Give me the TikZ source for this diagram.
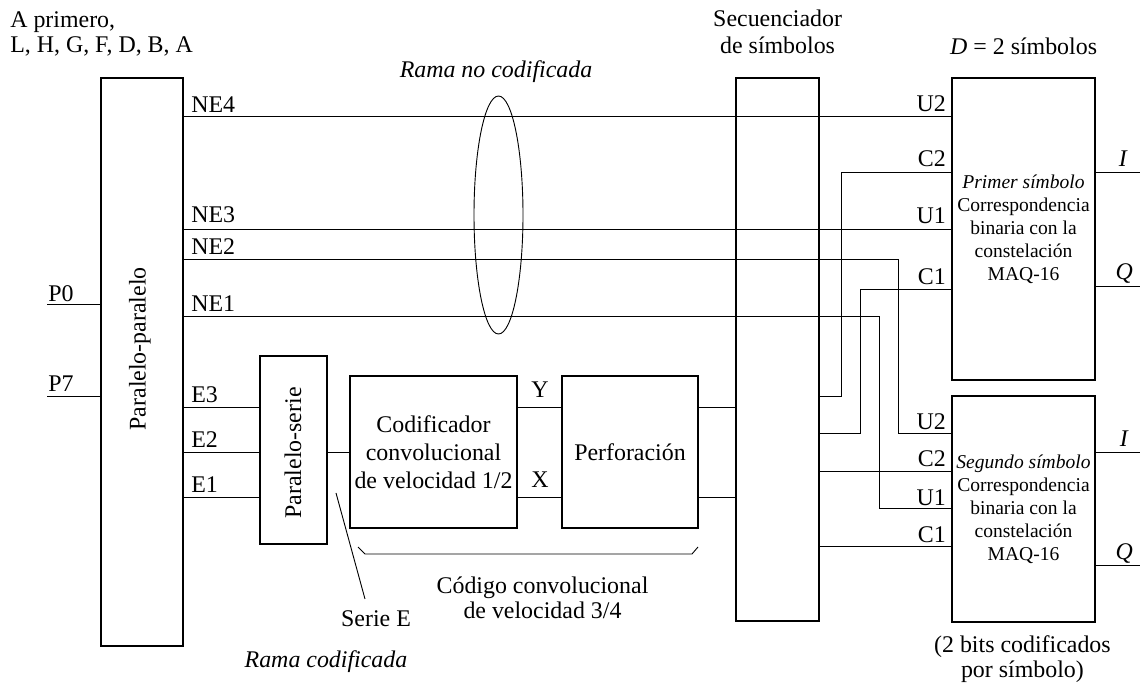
\documentclass[tikz,border=0pt]{standalone}
\usepackage{fontspec}
\setmainfont{Liberation Serif}
\usetikzlibrary{calc, positioning}
\tikzstyle{block} = [rectangle, draw=black, line width=0.9pt, inner sep=0pt, align=center]
\tikzstyle{mapper} = [block, minimum width=3.575cm, font=\fontsize{13.9}{16.3}\selectfont]
\tikzstyle{wire} = [line width=0.65pt]
\tikzstyle{portl} = [inner sep=0pt, anchor=base west]
\tikzstyle{portr} = [inner sep=0pt, anchor=base east]
\tikzstyle{note} = [inner sep=0pt, align=center, anchor=north]

\begin{document}
\begin{tikzpicture}[every node/.style={font=\fontsize{17}{20}\selectfont}]
	\useasboundingbox (0,0) rectangle (28.65,-17.1);

	% blocks
	\node (pp) [block, minimum width=2.05cm, minimum height=14.2cm] at (3.55,-9.05) {};
	\node (pplbl) [rotate=90, inner sep=0pt] at (3.5,-8.72) {Paralelo-paralelo};
	\node (ps) [block, minimum width=1.675cm, minimum height=4.7cm] at (7.3375,-11.25) {};
	\node (pslbl) [rotate=90, inner sep=0pt] at (7.325,-11.325) {Paralelo-serie};
	\node (cod) [block, minimum width=4.175cm, minimum height=3.8cm, font=\fontsize{17}{19.9}\selectfont] at (10.8375,-11.3) {Codificador\\convolucional\\de velocidad 1/2};
	\node (perf) [block, minimum width=3.4cm, minimum height=3.8cm] at (15.75,-11.3) {Perforación};
	\node (seq) [block, minimum width=2.075cm, minimum height=13.575cm] at (19.4375,-8.7375) {};
	\node (map1) [mapper, minimum height=7.55cm] at (25.5875,-5.725) {\textit{Primer símbolo}\\Correspondencia\\binaria con la\\constelación\\MAQ-16};
	\node (map2) [mapper, minimum height=5.65cm] at (25.5875,-12.725) {\textit{Segundo símbolo}\\Correspondencia\\binaria con la\\constelación\\MAQ-16};

	% inputs
	\draw [wire] (1.175,-7.6) -- (pp.west |- 0,-7.6);
	\draw [wire] (1.175,-9.9) -- (pp.west |- 0,-9.9);
	\node (p0) [portl] at (1.2,-7.55) {P0};
	\node (p7) [portl] at (1.2,-9.8) {P7};

	% uncoded branch
	\draw [wire] (pp.east |- 0,-2.9) -- (map1.west |- 0,-2.9);
	\draw [wire] (pp.east |- 0,-5.725) -- (map1.west |- 0,-5.725);
	\draw [wire] (pp.east |- 0,-6.475) -| (22.45,-10.825) -- (map2.west |- 0,-10.825);
	\draw [wire] (pp.east |- 0,-7.9) -| (21.975,-12.7) -- (map2.west |- 0,-12.7);
	\node (ne4) [portl] at (4.775,-2.825) {NE4};
	\node (ne3) [portl] at (4.775,-5.575) {NE3};
	\node (ne2) [portl] at (4.775,-6.375) {NE2};
	\node (ne1) [portl] at (4.775,-7.8) {NE1};
	\draw [wire] (12.4625,-5.375) ellipse (0.6125 and 2.975);

	% coded branch
	\draw [wire] (pp.east |- 0,-10.175) -- (ps.west |- 0,-10.175);
	\draw [wire] (pp.east |- 0,-11.3) -- (ps.west |- 0,-11.3);
	\draw [wire] (pp.east |- 0,-12.425) -- (ps.west |- 0,-12.425);
	\node (e3) [portl] at (4.775,-10.075) {E3};
	\node (e2) [portl] at (4.775,-11.2) {E2};
	\node (e1) [portl] at (4.775,-12.325) {E1};
	\draw [wire] (ps.east |- 0,-11.3) -- (cod.west |- 0,-11.3);
	\draw [wire] (cod.east |- 0,-10.175) -- (perf.west |- 0,-10.175);
	\draw [wire] (cod.east |- 0,-12.425) -- (perf.west |- 0,-12.425);
	\node (y) [inner sep=0pt, anchor=base] at (13.5,-9.95) {Y};
	\node (x) [inner sep=0pt, anchor=base] at (13.5,-12.2) {X};
	\draw [wire] (perf.east |- 0,-10.175) -- (seq.west |- 0,-10.175);
	\draw [wire] (perf.east |- 0,-12.425) -- (seq.west |- 0,-12.425);

	% sequencer outputs
	\draw [wire] (map1.west |- 0,-4.3) -| (21.025,-9.9) -- (seq.east |- 0,-9.9);
	\draw [wire] (map1.west |- 0,-7.225) -| (21.5,-10.825) -- (seq.east |- 0,-10.825);
	\draw [wire] (seq.east |- 0,-11.775) -- (map2.west |- 0,-11.775);
	\draw [wire] (seq.east |- 0,-13.65) -- (map2.west |- 0,-13.65);
	\node (u2a) [portr] at (23.65,-2.8) {U2};
	\node (c2a) [portr] at (23.65,-4.175) {C2};
	\node (u1a) [portr] at (23.65,-5.6) {U1};
	\node (c1a) [portr] at (23.65,-7.125) {C1};
	\node (u2b) [portr] at (23.65,-10.75) {U2};
	\node (c2b) [portr] at (23.65,-11.675) {C2};
	\node (u1b) [portr] at (23.65,-12.65) {U1};
	\node (c1b) [portr] at (23.65,-13.575) {C1};

	% I/Q outputs
	\draw [wire] (map1.east |- 0,-4.3) -- (28.5,-4.3);
	\draw [wire] (map1.east |- 0,-7.15) -- (28.5,-7.15);
	\draw [wire] (map2.east |- 0,-11.3) -- (28.5,-11.3);
	\draw [wire] (map2.east |- 0,-14.125) -- (28.5,-14.125);
	\node (i1) [portr] at (28.2,-4.175) {\textit{I}};
	\node (q1) [portr] at (28.33,-7.0) {\textit{Q}};
	\node (i2) [portr] at (28.225,-11.175) {\textit{I}};
	\node (q2) [portr] at (28.33,-14.0) {\textit{Q}};

	% brace and notes
	\draw [wire] (8.95,-13.675) -- (9.125,-13.85) -- (17.3,-13.85) -- (17.45,-13.675);
	\coordinate (sertip) at (8.4,-12.325);
	\coordinate (serend) at (9.125,-14.975);
	\draw [wire] (sertip) -- (serend);
	\node (serie) [inner sep=0pt, anchor=base] at (9.4,-15.675) {Serie E};
	\node (code34) [note, font=\fontsize{17}{17.7}\selectfont] at (13.5625,-14.415) {Código convolucional\\de velocidad 3/4};
	\node (ramac) [inner sep=0pt, anchor=base] at (8.15,-16.7) {\textit{Rama codificada}};
	\node (ramanc) [inner sep=0pt, anchor=base] at (12.4,-1.95) {\textit{Rama no codificada}};
	\node (orden) [note, anchor=north west, align=left, font=\fontsize{17}{17.7}\selectfont] at (0.25,-0.29) {A primero,\\L, H, G, F, D, B, A};
	\node (seqlbl) [note, font=\fontsize{17}{19.1}\selectfont] at (19.44,-0.24) {Secuenciador\\de símbolos};
	\node (dlbl) [inner sep=0pt, anchor=base] at (25.59,-1.375) {\textit{D} = 2 símbolos};
	\node (bits) [note, font=\fontsize{17}{17.7}\selectfont] at (25.56,-15.885) {(2 bits codificados\\por símbolo)};

\end{tikzpicture}
\end{document}
